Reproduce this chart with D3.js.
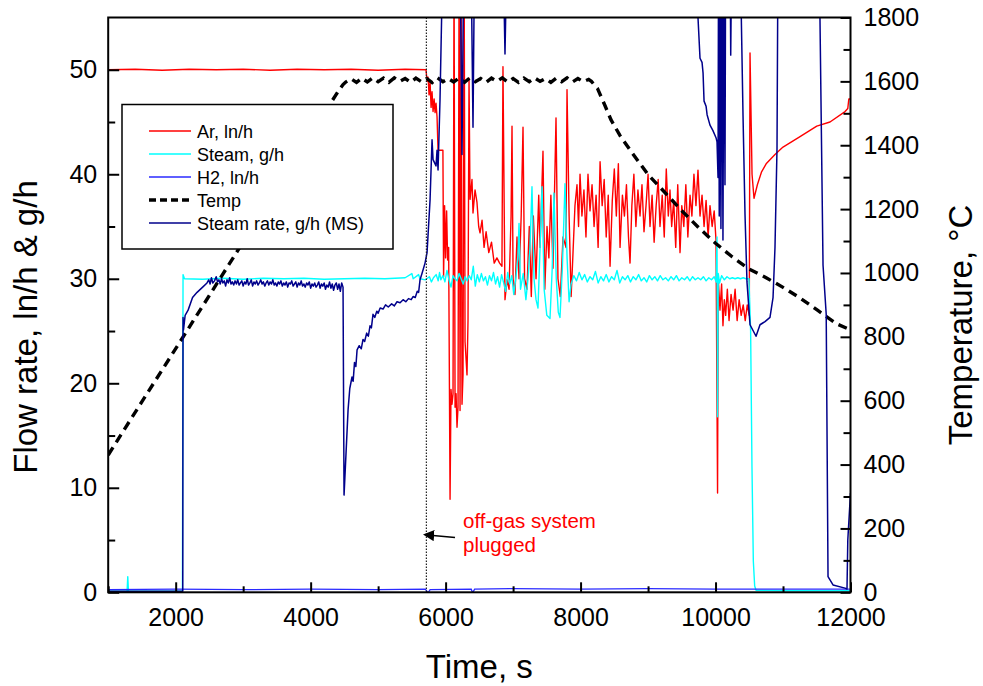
<!DOCTYPE html>
<html><head><meta charset="utf-8">
<script src="https://cdn.jsdelivr.net/npm/d3@7"></script>
<style>
html,body{margin:0;padding:0;background:#fff;}
text{font-family:"Liberation Sans",Arial,Helvetica,sans-serif;}
</style></head>
<body><svg id="chart" width="983" height="686"></svg>
<script>
// ---------------- data ----------------
const timeTicks = [2000, 4000, 6000, 8000, 10000, 12000];
const timeMinor = [1000, 3000, 5000, 7000, 9000, 11000];
const flowTicks = [0, 10, 20, 30, 40, 50];
const flowMinor = [5, 15, 25, 35, 45];
const tempTicks = [0, 200, 400, 600, 800, 1000, 1200, 1400, 1600, 1800];
const tempMinor = [100, 300, 500, 700, 900, 1100, 1300, 1500, 1700];
const seriesNames = ["Ar, ln/h", "Steam, g/h", "H2, ln/h", "Temp", "Steam rate, g/h (MS)"];
const plugTime = 5715;
const noteLines = ["off-gas system", "plugged"];

// Ar flow, ln/h  [time s, value]
const arFlow = [[1000,50],[1400,50.05],[1800,49.95],[2200,50.05],[2600,50],[3000,50.05],[3400,49.95],[3800,50.05],[4200,50],[4600,50.05],[5000,49.95],[5400,50.05],[5710,50],
[5725,48.9],[5740,49.3],[5755,47.6],[5770,48.8],[5785,46.4],[5799,47.9],[5814,46.0],[5830,47.2],[5844,45.9],[5858,46.8],[5873,45.5],[5888,42.3],[5960,42.3],
[5970,30.2],[5985,37],[6000,32],[6015,36.5],[6030,31.8],[6045,33],[6066,8.9],[6080,19.4],[6095,18],[6110,19],[6125,60],[6140,17.7],[6155,19],[6169,15.8],[6184,17.7],[6200,60],[6214,17.4],[6230,60],[6243,18],[6258,20.8],[6275,60],[6288,24],[6317,20.8],[6332,26],[6347,49.2],[6362,37.6],
[6391,39.5],[6406,36.3],[6436,38.5],[6465,37.3],[6490,35],[6510,34.4],[6540,35.6],[6570,33],[6600,34.5],[6640,32.5],[6680,33.5],[6720,31.5],[6760,32],[6800,31.5],[6835,31.2],[6850,50.3],[6880,28],[6910,29.9],[6940,29],[6970,36],[6984,44.6],[7000,30],[7028,28.5],[7058,34],[7088,30],[7120,36],[7147,44.5],[7170,30],[7206,29],[7240,35],[7270,28.3],[7300,36],[7340,30],[7380,38],[7399,33],[7443,42.2],[7470,29],[7503,35],[7530,32],[7560,38],[7591,31],[7636,45.4],[7665,30],[7700,28.3],[7740,34],[7784,33],[7799,48.1],[7830,36],[7860,28.3],[7888,32.5],[7917,37],[7947,39],[7970,35],[7992,40],
[8020,36],[8050,38.5],[8080,34],[8110,40],[8140,36.5],[8170,39],[8200,35],[8230,38],[8260,33],[8289,41.2],[8320,37],[8350,39.5],[8380,34],[8410,38],[8437,31.2],[8470,37.5],[8500,40.5],[8530,36],[8560,41],[8585,33],[8620,38],[8650,36],[8680,39],[8710,34],[8733,31.5],[8760,37],[8790,40],[8820,35],[8850,38.5],[8881,36],[8910,39],[8940,34.5],[8970,37],[9000,40],[9029,35],[9060,38],[9090,33.5],[9120,37],[9150,39.5],[9177,35],[9210,38],[9240,34],[9270,40.5],[9300,36],[9325,38.5],[9350,35],[9380,37.5],[9410,33],[9440,39],[9474,32.5],[9500,37],[9530,35],[9560,39],[9590,34],[9622,38],[9650,36],[9680,40],[9710,37],[9740,40.4],[9770,36],[9800,38],[9830,35],[9860,37.5],[9890,34],[9918,37],[9950,35],[9980,36.5],[10007,33.7],
[10030,9.5],[10040,30],[10066,27],[10090,29.5],[10110,25.5],[10130,28],[10150,26.5],[10175,29],[10200,26],[10230,28.5],[10260,27],[10290,29],[10320,26],[10350,28],[10380,26.5],[10410,27.5],[10440,26],[10470,27.5],[10500,26.5],
[10511,51.6],[10541,40],[10570,37.7],[10620,39.0],[10680,40.2],[10750,41.0],[10881,41.9],[11000,42.6],[11252,43.6],[11500,44.6],[11696,45.0],[11919,46.0],[11960,46.3],[11975,47.2],[12000,47.2]];

// Steam flow, g/h
const steamFlow = [[1000,0.1],[1280,0.1],[1290,1.5],[1300,0.1],[2100,0.1],[2109,30.4],[2130,30.0],[2400,29.95],[2700,30.05],[3000,29.95],[3300,30.05],[3600,30.0],[3900,30.05],[4200,29.95],[4500,30.0],[4800,30.05],[5100,30.0],[5400,30.1],[5500,30.5],[5520,30],[5600,30.4],[5620,30.0],[5700,29.9],[5760,30.2],[5790,29.7],[5820,30.1],[5860,30.4],[5890,29.8],[5910,30.6],[5930,29.9],[5960,30.3],[5990,29.7],[6020,30.8],[6050,29.9],[6080,29.2],[6110,30.3],[6140,30.0],[6170,29.8],[6200,30.5],[6230,30.0],[6260,29.5],[6290,30.2],[6320,29.8],[6350,30.3],[6380,29.9],[6410,31.2],[6440,29.3],[6470,30.4],[6500,29.7],[6530,30.5],[6560,29.8],[6590,30.2],[6620,29.4],[6650,30.3],[6680,29.8],[6710,30.6],[6740,29.5],[6770,30.2],[6800,29.2],[6830,30.4],[6860,29.6],[6890,28.8],[6920,30.6],[6950,29.5],[6980,30.3],[7010,28.5],[7040,30],[7070,32],[7088,35.3],[7110,29],[7150,30.5],[7190,28],[7221,30],[7250,33],[7280,38.8],[7310,30],[7340,28],[7369,27.2],[7400,33],[7429,38.8],[7460,29],[7500,26.5],[7547,26.2],[7580,31],[7606,38.2],[7640,30],[7670,26.8],[7695,26.3],[7730,31],[7769,39.1],[7800,32],[7830,27.8],[7860,29.5],[7900,30.3],[7940,29.8],[7980,30.6],[8020,29.9],[8060,30.4],[8100,29.7],[8140,30.2],[8180,29.9],[8220,30.7],[8260,29.6],[8300,30.2],[8340,29.8],[8380,30.4],[8420,29.7],[8460,30.2],[8500,29.9],[8540,30.8],[8580,29.6],[8620,30.2],[8660,29.9],[8700,30.3],[8740,29.7],[8780,30.2],[8820,29.9],[8860,30.4],[8900,29.8],[8940,30.1],[8980,29.7],[9020,30.3],[9060,29.9],[9100,30.2],[9140,29.8],[9180,30.3],[9220,29.9],[9260,30.1],[9300,29.8],[9340,30.2],[9380,29.9],[9420,30.3],[9460,29.8],[9500,30.1],[9540,29.9],[9580,30.2],[9620,29.8],[9660,30.2],[9700,29.9],[9740,30.1],[9780,29.9],[9820,30.2],[9860,29.8],[9900,30.1],[9940,29.9],[9980,30.2],[10010,29.7],[10022,34],[10030,16.8],[10040,30.5],[10060,29.6],[10090,30.3],[10130,29.9],[10170,30.2],[10210,30.0],[10250,30.1],[10290,30.0],[10330,30.1],[10370,30.0],[10410,30.1],[10450,30.0],[10495,30.0],[10520,25],[10540,12],[10560,3],[10580,0.6],[10600,0.2],[11000,0.15],[11500,0.15],[12000,0.15]];

// H2 flow, ln/h
const h2Flow = [[1000,0.25],[2000,0.3],[3000,0.25],[4000,0.3],[5000,0.25],[5700,0.3],[5740,-0.05],[5770,0.25],[6380,0.3],[6400,-0.05],[6430,0.3],[7000,0.35],[8000,0.3],[9000,0.35],[10000,0.3],[11000,0.3],[12000,0.3]];

// Steam rate g/h (MS)
const steamRateMS = [[1000,0.1],[2105,0.1],[2109,26.3],[2116,25.1],[2140,26.5],[2184,27],[2250,28.2],[2317,28.7],[2400,29.2],
[2464,29.6],[2490,29.9],[2510,29.5],[2530,30.1],[2550,29.6],[2575,29.8],[2600,30.2],[2620,29.7],[2640,29.9],[2660,29.5],[2680,30.0],[2700,29.6],[2720,29.8],[2740,29.3],[2760,29.9],[2780,29.6],[2800,30.1],[2820,29.5],[2840,29.7],[2860,29.4],[2880,29.8],[2900,29.5],[2920,29.9],[2940,29.4],[2960,29.6],[2980,29.8],[3000,29.3],[3020,29.7],[3040,29.5],[3060,30.0],[3080,29.4],[3100,29.6],[3120,29.9],[3140,29.3],[3160,29.7],[3180,29.5],[3200,29.8],[3220,29.4],[3240,29.6],[3260,29.9],[3280,29.5],[3300,29.7],[3320,29.3],[3340,29.6],[3360,29.8],[3380,29.4],[3400,29.7],[3420,29.5],[3440,29.9],[3460,29.4],[3480,29.6],[3500,29.3],[3520,29.7],[3540,29.5],[3560,29.8],[3580,29.3],[3600,29.6],[3620,29.4],[3640,29.7],[3660,29.2],[3680,29.6],[3700,29.5],[3720,29.8],[3740,29.3],[3760,29.5],[3780,29.7],[3800,29.2],[3820,29.6],[3840,29.4],[3860,29.8],[3880,29.3],[3900,29.5],[3920,29.2],[3940,29.6],[3960,29.4],[3980,29.7],[4000,29.1],[4020,29.5],[4040,29.3],[4060,29.6],[4080,29.2],[4100,29.4],[4120,29.7],[4140,29.1],[4160,29.5],[4180,29.3],[4200,29.6],[4220,29.0],[4240,29.4],[4260,29.2],[4280,29.7],[4300,29.1],[4320,29.5],[4340,28.9],[4360,29.4],[4380,29.6],[4400,29.0],[4420,29.5],[4440,28.8],[4460,29.6],[4480,29.2],
[4495,9.3],[4555,17.5],[4580,19.5],[4613,20.6],[4630,20.2],[4650,22],[4670,21.6],[4688,23.2],[4720,23.6],[4750,23.3],[4776,24.2],[4800,24.0],[4830,24.8],[4855,24.5],[4880,25.5],[4900,25.3],[4924,26.6],[4950,26.3],[4980,26.9],[5000,26.7],[5030,27.2],[5073,27.1],[5110,27.5],[5150,27.3],[5200,27.6],[5240,27.4],[5280,27.8],[5325,27.7],[5370,28.0],[5410,27.8],[5450,28.1],[5490,28.0],[5518,28.3],[5550,28.2],[5580,28.8],[5600,28.7],[5621,29.9],[5650,30.5],[5695,31.5],[5725,32.5],[5770,37.6],[5799,43.3],[5814,41.4],[5858,40.8],[5873,42.3],[5888,40.4],[5917,47.1],[5962,62],[6214,62],[6243,41.9],[6270,62],[6375,62],[6406,44.5],[6430,62],[6850,62],[6880,51.5],[6910,62],
[9730,62],[9740,55],[9770,51.1],[9800,50.7],[9815,49.7],[9830,47],[9860,46.5],[9875,45.7],[9918,44.7],[9960,44.2],[10007,43.5],[10022,43.1],[10037,39.7],[10045,62],[10055,36],[10066,62],[10080,34.8],[10095,62],[10110,33.7],[10125,62],[10140,39],[10150,62],[10215,62],[10225,51.4],[10240,62],[10363,62],
[10407,45.7],[10437,36.1],[10466,29.7],[10511,25.6],[10600,24.5],[10659,25.6],[10733,25.9],[10807,26.3],[10852,28.2],[10881,33],[10911,42.5],[10926,62],[11534,62],[11593,31.3],[11640,26.6],[11667,1.5],[11741,0.7],[11919,0.4],[11948,0.3],[11960,5],[12000,9.5]];

// Temperature, °C
const temperature = [[1000,430],[1500,597],[2000,763],[2500,930],[3000,1097],[3500,1263],[4000,1430],[4300,1533],[4400,1566],[4480,1590],[4520,1598],
[4600,1608],[4680,1597],[4760,1610],[4840,1598],[4920,1611],[5000,1599],[5080,1610],[5160,1597],[5240,1611],[5320,1600],[5400,1609],[5480,1597],[5560,1610],[5640,1599],[5720,1609],[5800,1596],[5880,1611],[5960,1599],[6040,1609],[6120,1598],[6200,1610],[6280,1597],[6360,1611],[6440,1599],[6520,1609],[6600,1597],[6680,1610],[6760,1600],[6840,1611],[6920,1598],[7000,1609],[7080,1597],[7160,1610],[7240,1599],[7320,1611],[7400,1600],[7480,1609],[7560,1597],[7640,1610],[7720,1599],[7800,1611],[7880,1598],[7960,1609],[8040,1599],[8120,1606],
[8160,1600],[8250,1578],[8350,1530],[8450,1480],[8585,1430],[8750,1380],[9000,1308],[9250,1252],[9500,1195],[9750,1142],[10000,1093],[10250,1050],[10500,1012],[10750,985],[11000,955],[11250,922],[11500,885],[11800,840],[12000,822]];

// ---------------- layout ----------------
const L = 108.2, R = 850.5, T = 17.5, B = 592.3;
const svg = d3.select("#chart");
svg.append("rect").attr("width",983).attr("height",686).attr("fill","#fff");

const x = d3.scaleLinear().domain([1000, 12000]).range([L, R]);
const y = d3.scaleLinear().domain([0, 55]).range([B, T]);
const yT = d3.scaleLinear().domain([0, 1800]).range([B, T]);

svg.append("clipPath").attr("id","clip").append("rect")
  .attr("x",L).attr("y",T).attr("width",R-L).attr("height",B-T);

const plot = svg.append("g").attr("clip-path","url(#clip)");
const lineF = d3.line().x(d=>x(d[0])).y(d=>y(d[1]));
const lineT = d3.line().x(d=>x(d[0])).y(d=>yT(d[1]));

const colors = {ar:"#ff0000", steam:"#00ffff", h2:"#2a2aff", temp:"#000000", ms:"#00008b"};

plot.append("path").datum(arFlow).attr("d",lineF).attr("fill","none").attr("stroke",colors.ar).attr("stroke-width",1.4).attr("stroke-linejoin","round");
plot.append("path").datum(steamFlow).attr("d",lineF).attr("fill","none").attr("stroke",colors.steam).attr("stroke-width",1.4).attr("stroke-linejoin","round");
plot.append("path").datum(h2Flow).attr("d",lineF).attr("fill","none").attr("stroke",colors.h2).attr("stroke-width",1.3);
plot.append("path").datum(temperature).attr("d",lineT).attr("fill","none").attr("stroke",colors.temp).attr("stroke-width",3.4).attr("stroke-dasharray","9,6");
plot.append("path").datum(steamRateMS).attr("d",lineF).attr("fill","none").attr("stroke",colors.ms).attr("stroke-width",1.5).attr("stroke-linejoin","round");

// plugged marker line
plot.append("line").attr("x1",x(plugTime)).attr("x2",x(plugTime)).attr("y1",T).attr("y2",B)
  .attr("stroke","#222").attr("stroke-width",1.2).attr("stroke-dasharray","1.5,1.5");

// ---------------- axes ----------------
const fontTick = "25px";
function styleAxis(g){
  g.select(".domain").remove();
  g.selectAll(".tick line").attr("stroke","#000").attr("stroke-width",2);
  g.selectAll(".tick text").attr("fill","#000").style("font-size",fontTick).style("font-family","'Liberation Sans',Arial,sans-serif");
}
const fmt = d3.format("d");
const xAx = svg.append("g").attr("transform",`translate(0,${B})`)
  .call(d3.axisBottom(x).tickValues(timeTicks).tickSize(-10).tickPadding(16).tickFormat(fmt));
styleAxis(xAx);
const xMin = svg.append("g").attr("transform",`translate(0,${B})`)
  .call(d3.axisBottom(x).tickValues(timeMinor).tickSize(-6).tickFormat(""));
styleAxis(xMin);

const yAx = svg.append("g").attr("transform",`translate(${L},0)`)
  .call(d3.axisLeft(y).tickValues(flowTicks).tickSize(-11).tickPadding(11).tickFormat(fmt));
styleAxis(yAx);
const yMin = svg.append("g").attr("transform",`translate(${L},0)`)
  .call(d3.axisLeft(y).tickValues(flowMinor).tickSize(-7).tickFormat(""));
styleAxis(yMin);

const yTAx = svg.append("g").attr("transform",`translate(${R},0)`)
  .call(d3.axisRight(yT).tickValues(tempTicks).tickSize(-10).tickPadding(13).tickFormat(fmt));
styleAxis(yTAx);
const yTMin = svg.append("g").attr("transform",`translate(${R},0)`)
  .call(d3.axisRight(yT).tickValues(tempMinor).tickSize(-7).tickFormat(""));
styleAxis(yTMin);

// frame
svg.append("rect").attr("x",L).attr("y",T).attr("width",R-L).attr("height",B-T)
  .attr("fill","none").attr("stroke","#000").attr("stroke-width",2);

// titles
svg.append("text").attr("x",(L+R)/2).attr("y",678).attr("text-anchor","middle")
  .style("font-size","33px").text("Time, s");
svg.append("text").attr("transform","translate(36.5,327) rotate(-90)").attr("text-anchor","middle")
  .style("font-size","33px").text("Flow rate, ln/h & g/h");
svg.append("text").attr("transform","translate(971.5,325) rotate(-90)").attr("text-anchor","middle")
  .style("font-size","33px").text("Temperature, °C");

// ---------------- legend ----------------
const lg = svg.append("g");
lg.append("rect").attr("x",122).attr("y",104.5).attr("width",271).attr("height",144.5)
  .attr("fill","#fff").attr("stroke","#000").attr("stroke-width",1.5);
const legendStyles = [
  {c:colors.ar, w:1.6, dash:null},
  {c:colors.steam, w:1.6, dash:null},
  {c:colors.h2, w:1.4, dash:null},
  {c:colors.temp, w:3.4, dash:"7,4"},
  {c:colors.ms, w:1.5, dash:null}];
seriesNames.forEach((n,i)=>{
  const yy = 131 + i*23;
  const ln = lg.append("line").attr("x1",149).attr("x2",191).attr("y1",yy).attr("y2",yy)
    .attr("stroke",legendStyles[i].c).attr("stroke-width",legendStyles[i].w);
  if(legendStyles[i].dash) ln.attr("stroke-dasharray",legendStyles[i].dash);
  lg.append("text").attr("x",197).attr("y",yy+6.7).style("font-size","18px").attr("fill","#000").text(n);
});

// ---------------- annotation ----------------
svg.append("defs").append("marker").attr("id","arr").attr("viewBox","0 0 10 10")
  .attr("refX",1).attr("refY",5).attr("markerWidth",8).attr("markerHeight",8).attr("orient","auto-start-reverse")
  .append("path").attr("d","M0,0 L10,5 L0,10 z").attr("fill","#000");
svg.append("line").attr("x1",455).attr("y1",537.5).attr("x2",433).attr("y2",535.5)
  .attr("stroke","#000").attr("stroke-width",1.4).attr("marker-end","url(#arr)");
noteLines.forEach((t,i)=>{
  svg.append("text").attr("x",463).attr("y",528 + i*24).style("font-size","20.5px").attr("fill","#ff0000").text(t);
});
</script></body></html>
